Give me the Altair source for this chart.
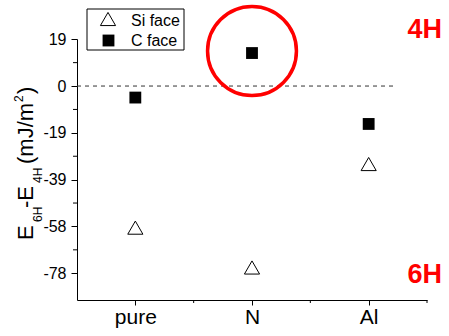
import altair as alt
import pandas as pd

# ---- data ----
categories = ["pure", "N", "Al"]
cat_pos = [1, 2, 3]
si_face = [-59.0, -75.6, -32.5]
c_face = [-4.8, 13.75, -15.8]

y_ticks = [19.5, 0, -19.5, -39, -58.5, -78]
y_tick_labels = ["19", "0", "-19", "-39", "-58", "-78"]
y_minor = [9.75, -9.75, -29.25, -48.75, -68.25]
x_minor = [1.5, 2.5, 3.5]

highlight_x = [2]
highlight_y = [14.6]
zero_x = [0.5]
zero_x2 = [3.24]
zero_y = [0]

# ---- layout ----
L, T = 77, 39
W, H = 350, 261
XDOM = [0.5, 3.5]
YDOM = [-89.15, 19.6]
FONT = "Liberation Sans, Arial, sans-serif"


def px(x):
    return x - L


def py(y):
    return y - T


df = pd.DataFrame({"cat": categories, "pos": cat_pos, "si": si_face, "c": c_face})

xs = alt.Scale(domain=XDOM, nice=False, zero=False)
ys = alt.Scale(domain=YDOM, nice=False, zero=False)

x_expr = " : ".join(
    f"datum.value == {p} ? '{c}'" for p, c in zip(cat_pos, categories)
) + " : ''"
y_expr = " : ".join(
    f"datum.value == {v} ? '{t}'" for v, t in zip(y_ticks, y_tick_labels)
) + " : ''"

x_axis = alt.Axis(
    values=cat_pos, labelExpr=x_expr, title=None, grid=False,
    domainColor="black", tickColor="black", tickSize=5, tickWidth=1,
    labelFontSize=21, labelFont=FONT, labelColor="black", labelPadding=1,
    domainWidth=1,
)
y_axis = alt.Axis(
    values=y_ticks, labelExpr=y_expr, title=None, grid=False,
    domainColor="black", tickColor="black", tickSize=6, tickWidth=1,
    labelFontSize=16, labelFont=FONT, labelColor="black", labelPadding=5,
    domainWidth=1,
)


def X(f):
    return alt.X(f, type="quantitative", scale=xs, axis=x_axis)


def Y(f):
    return alt.Y(f, type="quantitative", scale=ys, axis=y_axis)


tri = alt.Chart(df).mark_point(
    shape="triangle-up", filled=False, color="black", strokeWidth=1,
    size=230, opacity=1
).encode(x=X("pos"), y=Y("si"))

sq = alt.Chart(df).mark_square(
    size=140, color="black", opacity=1
).encode(x=X("pos"), y=Y("c"))

zero = alt.Chart(pd.DataFrame({"x": zero_x, "x2": zero_x2, "y": zero_y})).mark_rule(
    color="#333333", strokeWidth=1, strokeDash=[4, 4]
).encode(x=X("x"), x2="x2", y=Y("y"))

ymin = alt.Chart(pd.DataFrame({"v": y_minor})).mark_rule(
    color="black", strokeWidth=1
).encode(y=Y("v"), x=alt.value(-4), x2=alt.value(0))

xmin = alt.Chart(pd.DataFrame({"v": x_minor})).mark_rule(
    color="black", strokeWidth=1
).encode(x=X("v"), y=alt.value(H), y2=alt.value(H + 3))

circle = alt.Chart(pd.DataFrame({"x": highlight_x, "y": highlight_y})).mark_point(
    shape="circle", filled=False, color="#FF0000", strokeWidth=3.5,
    size=7900, opacity=1
).encode(x=X("x"), y=Y("y"))


def text_piece(t, x, y, size, angle=270, color="black", weight="normal", align="left"):
    return alt.Chart(pd.DataFrame({"t": [t]})).mark_text(
        angle=angle, align=align, baseline="alphabetic", fontSize=size,
        font=FONT, color=color, fontWeight=weight
    ).encode(x=alt.value(px(x)), y=alt.value(py(y)), text="t")


title_pieces = [
    ("E", 33, 240, 22),
    ("6H", 42, 222, 12),
    ("-E", 33, 208, 22),
    ("4H", 42, 183, 12),
    ("(mJ/m", 33, 164, 22),
    ("2", 23, 102, 12),
    (")", 33, 94, 22),
]
title_layers = [text_piece(t, x, y, s) for t, x, y, s in title_pieces]

legend_box = alt.Chart(pd.DataFrame({"a": [0]})).mark_rect(
    fill="white", stroke="black", strokeWidth=1
).encode(x=alt.value(px(87)), x2=alt.value(px(184)),
         y=alt.value(py(9)), y2=alt.value(py(50)))

leg_tri = alt.Chart(pd.DataFrame({"a": [0]})).mark_point(
    shape="triangle-up", filled=False, color="black", strokeWidth=1,
    size=230, opacity=1
).encode(x=alt.value(px(108)), y=alt.value(py(19)))

leg_sq = alt.Chart(pd.DataFrame({"a": [0]})).mark_square(
    size=140, color="black", opacity=1
).encode(x=alt.value(px(108.5)), y=alt.value(py(40.5)))

leg_t1 = text_piece("Si face", 131, 26, 16, angle=0)
leg_t2 = text_piece("C face", 131, 46, 16, angle=0)

lab4 = text_piece("4H", 442, 38, 27, angle=0, color="#FF0000", weight="bold", align="right")
lab6 = text_piece("6H", 442, 283, 27, angle=0, color="#FF0000", weight="bold", align="right")

chart = alt.layer(
    zero, ymin, xmin, tri, sq, circle,
    legend_box, leg_tri, leg_sq, leg_t1, leg_t2, lab4, lab6,
    *title_layers
).properties(
    width=W, height=H,
    autosize=alt.AutoSizeParams(type="none"),
    padding={"left": L, "top": T, "right": 449 - L - W, "bottom": 336 - T - H},
    background="white",
).configure_view(stroke=None)

chart.save("out.html", embed_options={"renderer": "svg", "actions": False})
